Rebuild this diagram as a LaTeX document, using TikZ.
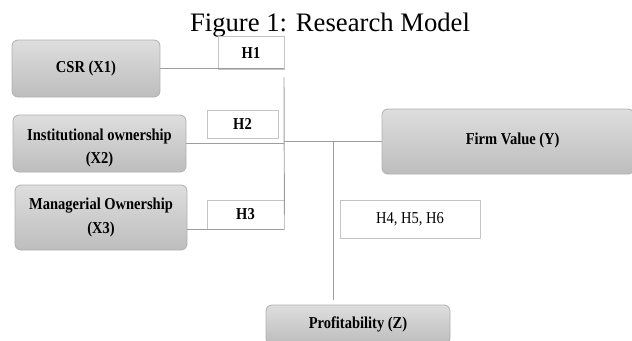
\documentclass[tikz,border=0pt]{standalone}
\usepackage{fontspec}
\setmainfont{Liberation Serif}
\newfontfamily\condfont[FakeStretch=0.87]{Liberation Serif}
\definecolor{boxtop}{HTML}{DEDEDE}
\definecolor{boxbot}{HTML}{BDBDBD}
\definecolor{boxline}{HTML}{B0B0B0}
\definecolor{linec}{HTML}{9E9E9E}
\definecolor{labline}{HTML}{C4C4C4}
\begin{document}
\begin{tikzpicture}[x=0.75pt,y=-0.75pt,
  varbox/.style={draw=boxline, line width=0.6pt, rounded corners=4.5pt, top color=boxtop, bottom color=boxbot,
    align=center, inner sep=0pt, font=\condfont\fontsize{12.5}{17.5}\selectfont\bfseries},
  hyp/.style={draw=labline, line width=0.6pt, fill=white, inner sep=0pt, font=\condfont\fontsize{12.5}{14}\selectfont\bfseries},
  hypreg/.style={hyp, font=\condfont\fontsize{12.5}{14}\selectfont},
  conn/.style={draw=linec, line width=0.7pt}]
\useasboundingbox (0,0) rectangle (632,340);

% title
\node[anchor=base, font=\fontsize{20}{24}\selectfont, inner sep=0pt] (title) at (330,31) {Figure 1: Research Model};

% variable boxes
\node[varbox, minimum width=111pt, minimum height=42.75pt] (csr) at (86,68.5) {\raisebox{3pt}{CSR (X1)}};
\node[varbox, minimum width=129.75pt, minimum height=42.75pt] (inst) at (99.5,143.5) {\rule{0pt}{15pt}Institutional ownership\\(X2)};
\node[varbox, minimum width=129pt, minimum height=48.75pt] (manag) at (101,217.5) {Managerial Ownership\\(X3)};
\node[varbox, minimum width=189pt, minimum height=48.75pt] (firm) at (508,141.5) {\raisebox{3.5pt}{\hspace{7pt}Firm Value (Y)}};
\node[varbox, minimum width=138pt, minimum height=29.25pt] (prof) at (358,324.5) {Profitability (Z)};

% hypothesis labels
\node[hyp, minimum width=49.5pt, minimum height=24.75pt] (h1) at (251,52.5) {H1};
\node[hyp, minimum width=53.25pt, minimum height=21pt] (h2) at (242.5,124) {H2};
\node[hyp, minimum width=57.75pt, minimum height=21.75pt] (h3) at (245.5,214.5) {H3};
\node[hypreg, minimum width=105pt, minimum height=28.5pt] (h456) at (410,219) {H4, H5, H6};

% junction coordinates
\coordinate (jtop) at (284,77);
\coordinate (jz) at (333,141.5);
\coordinate (zend) at (333,300);

% connectors
\draw[conn] (csr.east) -- (csr.east -| h1.east);
\draw[conn] (jtop) -- (h3.east);
\draw[conn] (inst.east) -- (jtop |- inst.east);
\draw[conn] (jtop |- firm.west) -- (firm.west);
\draw[conn] (jz) -- (zend);
\draw[conn] (manag.east |- h3.south) -- (h3.south east);
\end{tikzpicture}
\end{document}
